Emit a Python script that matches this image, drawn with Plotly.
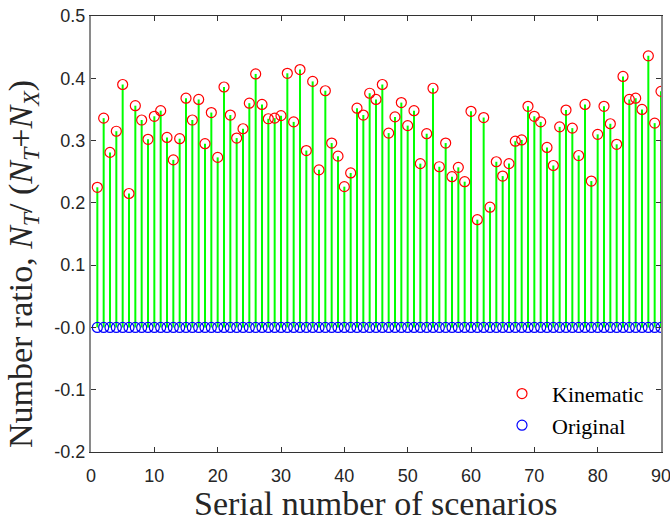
import plotly.graph_objects as go

scenarios = list(range(1, 91))
kinematic = [
    0.225, 0.336, 0.281, 0.315, 0.390, 0.215, 0.356, 0.333, 0.302, 0.339,
    0.348, 0.305, 0.269, 0.303, 0.368, 0.333, 0.366, 0.295, 0.345, 0.273,
    0.386, 0.341, 0.304, 0.319, 0.360, 0.407, 0.358, 0.335, 0.336, 0.340,
    0.408, 0.330, 0.414, 0.284, 0.395, 0.253, 0.380, 0.296, 0.275, 0.226,
    0.248, 0.352, 0.341, 0.376, 0.366, 0.390, 0.312, 0.338, 0.361, 0.324,
    0.348, 0.263, 0.311, 0.384, 0.258, 0.296, 0.242, 0.257, 0.234, 0.347,
    0.173, 0.337, 0.193, 0.266, 0.243, 0.263, 0.299, 0.301, 0.355, 0.339,
    0.330, 0.289, 0.260, 0.322, 0.349, 0.320, 0.276, 0.358, 0.235, 0.310,
    0.355, 0.327, 0.294, 0.403, 0.366, 0.368, 0.350, 0.436, 0.328, 0.379,
]
original = [0.0] * 90

x_ticks = [0, 10, 20, 30, 40, 50, 60, 70, 80, 90]
y_ticks = [0.5, 0.4, 0.3, 0.2, 0.1, 0.0, -0.1, -0.2]
y_tick_labels = ["0.5", "0.4", "0.3", "0.2", "0.1", "-0.0", "-0.1", "-0.2"]

x_title = "Serial number of scenarios"
y_title = ("Number ratio, <i>N</i><sub><i>T</i></sub>/ (<i>N</i><sub><i>T</i></sub>"
           "+<i>N</i><sub><i>X</i></sub>)")

# stems
sx, sy = [], []
for xi, yi in zip(scenarios, kinematic):
    sx += [xi, xi, None]
    sy += [0, yi, None]

fig = go.Figure()
fig.add_trace(go.Scatter(x=sx, y=sy, mode="lines",
                         line=dict(color="#00ff00", width=2),
                         showlegend=False, hoverinfo="skip"))
fig.add_trace(go.Scatter(x=scenarios, y=kinematic, mode="markers", name="Kinematic",
                         marker=dict(symbol="circle-open", size=10, color="#ff0000",
                                     line=dict(width=1.2, color="#ff0000"))))
fig.add_trace(go.Scatter(x=scenarios, y=original, mode="markers", name="Original",
                         marker=dict(symbol="circle-open", size=10, color="#0000ff",
                                     line=dict(width=1.2, color="#0000ff"))))

serif = "Liberation Serif, Times New Roman, serif"
fig.update_layout(
    width=670, height=519,
    margin=dict(l=91, r=9, t=16, b=67),
    plot_bgcolor="white", paper_bgcolor="white",
    font=dict(family="Liberation Sans, Arial", size=18, color="#262626"),
    legend=dict(x=0.7035, xanchor="left", y=0.012, yanchor="bottom",
                bgcolor="rgba(0,0,0,0)",
                font=dict(family=serif, size=22, color="#000"),
                itemwidth=50, tracegroupgap=0),
    xaxis=dict(range=[0, 90], tickvals=x_ticks, ticks="inside", ticklen=5,
               showgrid=False, zeroline=False, showline=True, linecolor="#333",
               linewidth=1, mirror="ticks", tickcolor="#333", automargin=False,
               ticklabeloverflow="allow", ticklabelstandoff=7),
    yaxis=dict(range=[-0.2, 0.5], tickvals=y_ticks, ticktext=y_tick_labels,
               ticks="inside", ticklen=5,
               showgrid=False, zeroline=False, showline=True, linecolor="#8a8a8a",
               linewidth=2, mirror="ticks", tickcolor="#333", automargin=False,
               ticklabeloverflow="allow"),
    annotations=[
        dict(text=x_title, xref="paper", yref="paper", x=0.5, y=0,
             xanchor="center", yanchor="middle", yshift=-51, showarrow=False,
             font=dict(family=serif, size=34, color="#262626")),
        dict(text=y_title, xref="paper", yref="paper", x=0, y=0.431,
             xanchor="center", yanchor="middle", xshift=-68, textangle=-90,
             showarrow=False,
             font=dict(family=serif, size=34, color="#262626")),
    ],
)

fig.write_html("out.html",
               config={"displayModeBar": False},
               post_script="document.body.style.margin='0px';"
                           "document.body.style.overflow='hidden';")
